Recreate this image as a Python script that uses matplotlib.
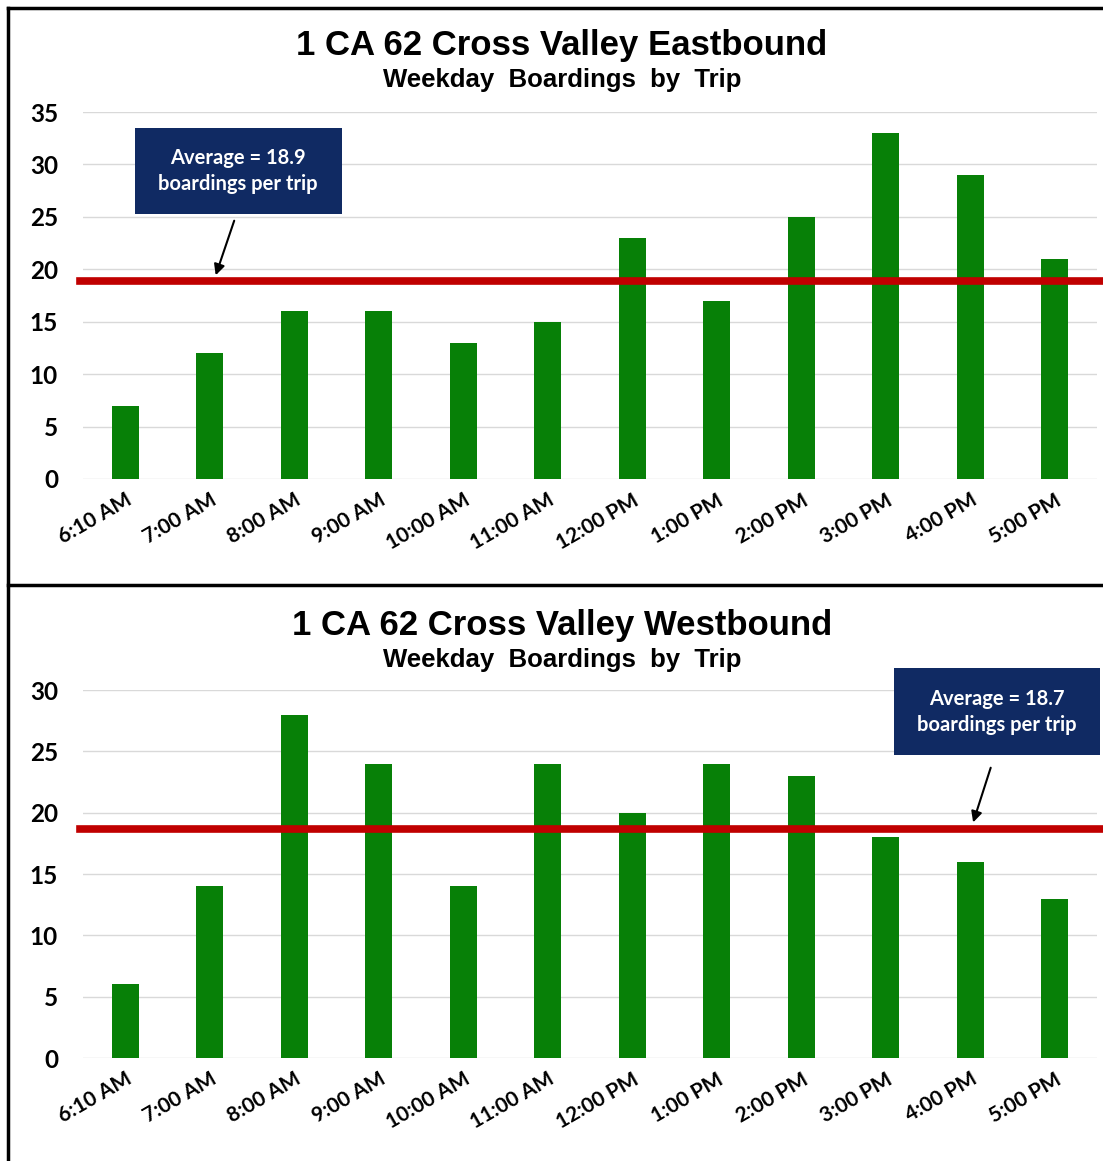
import matplotlib.pyplot as plt
from matplotlib.lines import Line2D
from matplotlib.patches import Rectangle

trips = ["6:10 AM", "7:00 AM", "8:00 AM", "9:00 AM", "10:00 AM", "11:00 AM",
         "12:00 PM", "1:00 PM", "2:00 PM", "3:00 PM", "4:00 PM", "5:00 PM"]
east = [7, 12, 16, 16, 13, 15, 23, 17, 25, 33, 29, 21]
west = [6, 14, 28, 24, 14, 24, 20, 24, 23, 18, 16, 13]
east_avg = 18.9
west_avg = 18.7

bar_color = "#078007"
avg_color = "#c00000"
box_color = "#102a63"
tick_font = "Lato"

W, H = 1103, 1161
fig = plt.figure(figsize=(W / 100, H / 100), dpi=100)


def px_axes(left, right, top, bottom):
    return fig.add_axes([left / W, 1 - bottom / H, (right - left) / W, (bottom - top) / H])


def draw_panel(ax, values, avg, ymax, box, arrow_from, arrow_to, label_pos):
    x = range(len(trips))
    ax.bar(x, values, width=0.32, color=bar_color, zorder=2)
    ax.set_xlim(-0.5, len(trips) - 0.5)
    ax.set_ylim(0, ymax)
    ax.set_yticks(range(0, ymax + 1, 5))
    ax.grid(axis="y", color="#d9d9d9", lw=1, zorder=0)
    ax.set_axisbelow(True)
    for s in ax.spines.values():
        s.set_visible(False)
    ax.tick_params(length=0)
    ax.tick_params(axis="y", pad=18)
    ax.set_yticklabels([str(v) for v in range(0, ymax + 1, 5)],
                       fontsize=17.5, fontweight="bold", family=tick_font)
    ax.set_xticks(list(x))
    ax.set_xticklabels(trips, rotation=30, ha="right", va="top",
                       rotation_mode="anchor", fontsize=15,
                       fontweight="bold", family=tick_font)
    ax.tick_params(axis="x", pad=8)

    # average line runs to the figure edge
    ax.axhline(avg, xmin=-0.003, xmax=1.01, color=avg_color, lw=5.5,
               zorder=3, clip_on=False)

    # callout box
    x0, y0, x1, y1 = box
    ax.add_patch(Rectangle((x0, y0), x1 - x0, y1 - y0, transform=ax.transAxes,
                           facecolor=box_color, edgecolor="none", zorder=4,
                           clip_on=False))
    ax.text(label_pos[0], label_pos[1],
            f"Average = {avg}\nboardings per trip",
            transform=ax.transAxes, ha="center", va="center", color="white",
            fontsize=14.5, fontweight="bold", family=tick_font,
            linespacing=1.35, zorder=5)
    ax.annotate("", xy=arrow_to, xytext=arrow_from,
                xycoords="axes fraction", textcoords="axes fraction",
                arrowprops=dict(arrowstyle="-|>", color="black", lw=1.5,
                                mutation_scale=16), zorder=5)


ax_top = px_axes(83, 1097, 112, 479)
draw_panel(ax_top, east, east_avg, 35,
           (0.0513, 0.722, 0.2554, 0.956), (0.150, 0.711), (0.130, 0.548),
           (0.153, 0.839))

ax_bot = px_axes(83, 1097, 690, 1058)
draw_panel(ax_bot, west, west_avg, 30,
           (0.800, 0.823, 1.003, 1.060), (0.896, 0.796), (0.877, 0.633),
           (0.901, 0.940))

# titles
title_kw = dict(ha="center", va="center", fontweight="bold", family="Liberation Sans")
fig.text(562 / W, 1 - 46 / H, "1 CA 62 Cross Valley Eastbound", fontsize=25, **title_kw)
fig.text(562 / W, 1 - 80 / H, "Weekday  Boardings  by  Trip", fontsize=18.5, **title_kw)
fig.text(562 / W, 1 - 625 / H, "1 CA 62 Cross Valley Westbound", fontsize=25, **title_kw)
fig.text(562 / W, 1 - 660 / H, "Weekday  Boardings  by  Trip", fontsize=18.5, **title_kw)

# panel borders
for xs, ys in [((8, W), (8, 8)), ((8, 8), (8, H)), ((8, W), (585, 585))]:
    fig.add_artist(Line2D([v / W for v in xs], [1 - v / H for v in ys],
                          color="black", lw=2.5, transform=fig.transFigure))

fig.savefig("out.png", dpi=100, facecolor="white")
